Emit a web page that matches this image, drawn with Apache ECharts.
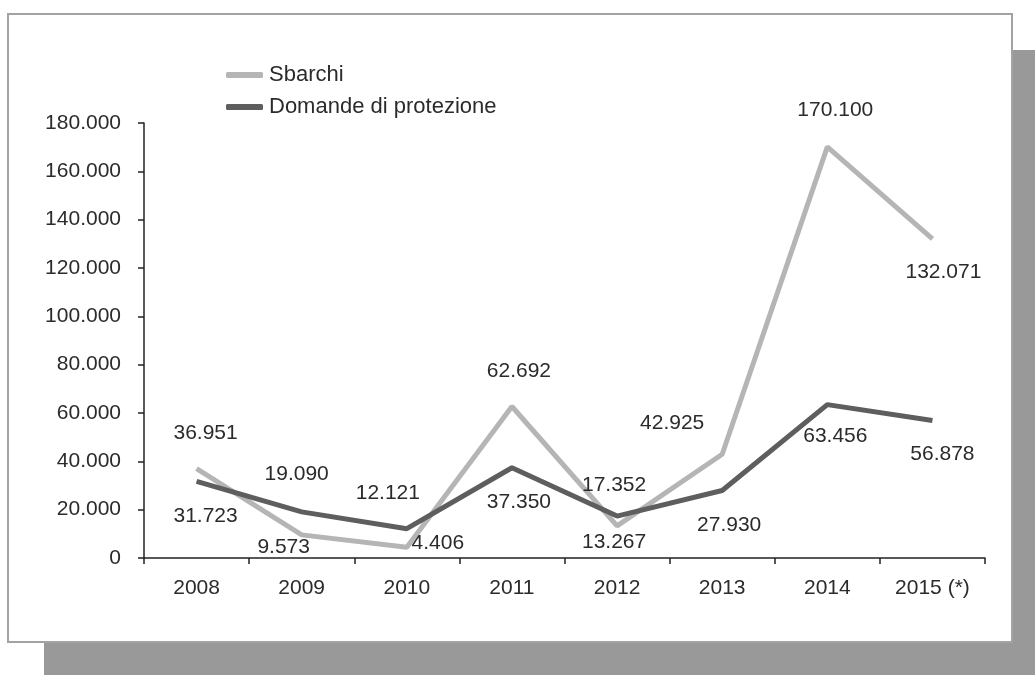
<!DOCTYPE html>
<html>
<head>
<meta charset="utf-8">
<script src="https://cdn.jsdelivr.net/npm/echarts@6/dist/echarts.min.js"></script>
<style>
html,body{margin:0;padding:0;background:#fff;}
#chart{width:1035px;height:675px;}
</style>
</head>
<body>
<div id="chart"></div>
<script>
const categories = ['2008','2009','2010','2011','2012','2013','2014','2015 (*)'];
const sbarchi = [36951, 9573, 4406, 62692, 13267, 42925, 170100, 132071];
const domande = [31723, 19090, 12121, 37350, 17352, 27930, 63456, 56878];
const yTicks = [0, 20000, 40000, 60000, 80000, 100000, 120000, 140000, 160000, 180000];

// label offsets (style only)
const sbarchiOffsets = [[9,-35],[-18,12],[31,-4],[7,-35],[-3,16],[-50,-31],[8,-37],[11,33]];
const domandeOffsets = [[9,35],[-5,-38],[-19,-36],[7,34],[-3,-31],[7,35],[8,32],[10,34]];

function fmt(v){
  return String(Math.round(v)).replace(/\B(?=(\d{3})+(?!\d))/g, '.');
}
const FONT = 'Liberation Sans, Arial, sans-serif';
const TXT = '#2b2b2b';

function buildData(values, offsets){
  return values.map((v,i)=>({
    value: v,
    label: {offset: offsets[i]}
  }));
}

const chart = echarts.init(document.getElementById('chart'));
chart.setOption({
  animation: false,
  backgroundColor: '#fff',
  graphic: [
    {type:'rect', z:-10, silent:true, shape:{x:44,y:50,width:1000,height:640}, style:{fill:'#999'}},
    {type:'rect', z:-9, silent:true, shape:{x:8,y:14,width:1004,height:628}, style:{fill:'#fff', stroke:'#a3a3a3', lineWidth:2}}
  ],
  legend: {
    left: 221, top: 59,
    orient: 'vertical',
    itemGap: 10,
    itemWidth: 37, itemHeight: 6,
    icon: 'roundRect',
    textStyle: {fontFamily: FONT, fontSize: 22, color: TXT, padding:[0,0,0,1]},
    data: ['Sbarchi','Domande di protezione']
  },
  grid: {left: 144, right: 50, top: 123, bottom: 117, containLabel: false},
  xAxis: {
    type: 'category',
    data: categories,
    boundaryGap: true,
    axisLine: {lineStyle: {color: '#222', width: 1.5}},
    axisTick: {show: true, length: 6, alignWithLabel: false, lineStyle:{color:'#222', width:1.5}},
    axisLabel: {fontFamily: FONT, fontSize: 21, color: TXT, margin: 20}
  },
  yAxis: {
    type: 'value',
    min: 0, max: 180000, interval: 20000,
    splitLine: {show: false},
    axisLine: {show: true, lineStyle: {color: '#222', width: 1.5}},
    axisTick: {show: true, length: 6, lineStyle:{color:'#222', width:1.5}},
    axisLabel: {fontFamily: FONT, fontSize: 21, color: TXT, margin: 23,
      formatter: v => yTicks.includes(v) ? fmt(v) : ''}
  },
  series: [
    {
      name: 'Sbarchi', type: 'line',
      data: buildData(sbarchi, sbarchiOffsets),
      symbol: 'circle', symbolSize: 0.1, showSymbol: true,
      itemStyle: {color: '#b5b5b5'},
      lineStyle: {color: '#b5b5b5', width: 5},
      label: {show: true, position: 'inside', fontFamily: FONT, fontSize: 21, color: TXT,
        formatter: p => fmt(p.value)},
      z: 2
    },
    {
      name: 'Domande di protezione', type: 'line',
      data: buildData(domande, domandeOffsets),
      symbol: 'circle', symbolSize: 0.1, showSymbol: true,
      itemStyle: {color: '#5e5e5e'},
      lineStyle: {color: '#5e5e5e', width: 5},
      label: {show: true, position: 'inside', fontFamily: FONT, fontSize: 21, color: TXT,
        formatter: p => fmt(p.value)},
      z: 3
    }
  ]
});
</script>
</body>
</html>
